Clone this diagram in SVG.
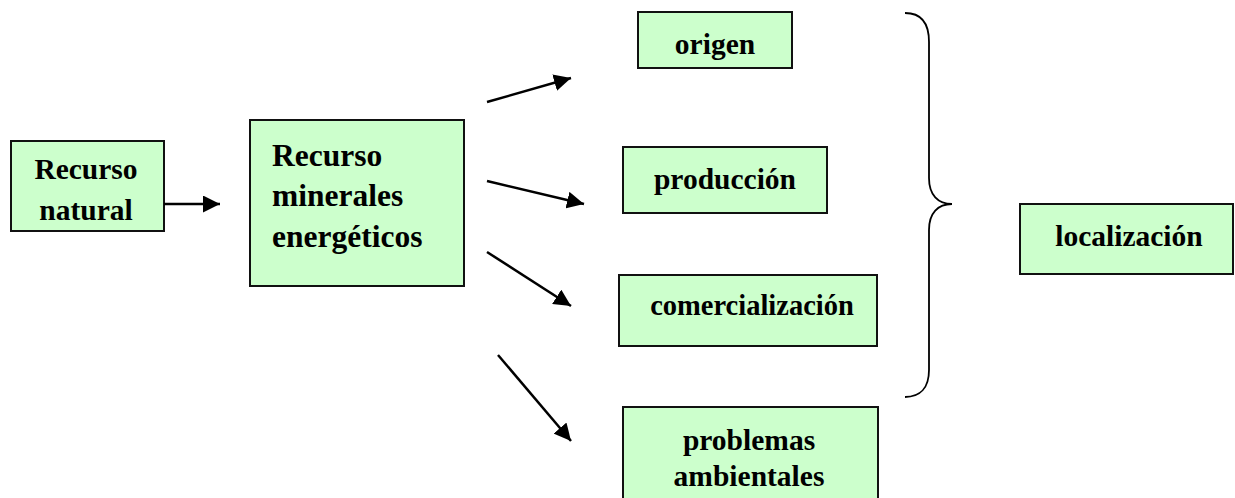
<svg xmlns="http://www.w3.org/2000/svg" width="1235" height="498" viewBox="0 0 1235 498">
<style>
.box{fill:#CCFFCC;stroke:#111;stroke-width:2}
.t{font-family:"Liberation Serif","Times New Roman",serif;font-weight:bold;font-size:29.5px;fill:#000}
.big{font-size:31.5px}
.c{text-anchor:middle}
.ln{stroke:#000;stroke-width:2.5;fill:none}
</style>
<defs>
<marker id="a" viewBox="0 0 17 17" refX="17" refY="8.5" markerWidth="17" markerHeight="17" markerUnits="userSpaceOnUse" orient="auto">
<path d="M0,0 L17,8.5 L0,17 z" fill="#000"/>
</marker>
</defs>
<rect width="1235" height="498" fill="#fff"/>
<g id="n-recurso-natural">
<rect class="box" x="11" y="141" width="153" height="90"/>
<text class="t c" x="86" y="179">Recurso</text>
<text class="t c" x="86" y="220">natural</text>
</g>
<g id="n-recurso-minerales">
<rect class="box" x="250" y="120" width="214" height="166"/>
<text class="t big" x="272" y="166">Recurso</text>
<text class="t big" x="272" y="206">minerales</text>
<text class="t big" x="272" y="247">energéticos</text>
</g>
<g id="n-origen">
<rect class="box" x="638" y="12" width="154" height="56"/>
<text class="t c" x="715" y="54">origen</text>
</g>
<g id="n-produccion">
<rect class="box" x="623" y="147" width="204" height="66"/>
<text class="t c" x="725" y="189">producción</text>
</g>
<g id="n-comercializacion">
<rect class="box" x="619" y="275" width="258" height="71"/>
<text class="t c" x="752" y="315" style="font-size:28.5px">comercialización</text>
</g>
<g id="n-problemas">
<rect class="box" x="623" y="407" width="255" height="100"/>
<text class="t c" x="749" y="450">problemas</text>
<text class="t c" x="749" y="486">ambientales</text>
</g>
<g id="n-localizacion">
<rect class="box" x="1020" y="204" width="213" height="70"/>
<text class="t c" x="1129" y="246">localización</text>
</g>
<g id="connectors">
<line class="ln" x1="164" y1="204" x2="220" y2="204" marker-end="url(#a)"/>
<line class="ln" x1="487" y1="102" x2="571" y2="78" marker-end="url(#a)"/>
<line class="ln" x1="487" y1="181" x2="584" y2="204" marker-end="url(#a)"/>
<line class="ln" x1="487" y1="252" x2="571" y2="306" marker-end="url(#a)"/>
<line class="ln" x1="498" y1="355" x2="571" y2="441" marker-end="url(#a)"/>
<path d="M905,13 C920,13 929,22 929,42 L929,178 C929,195 938,204 952,204 C938,204 929,213 929,230 L929,370 C929,388 920,397 905,397" fill="none" stroke="#000" stroke-width="1.8"/>
</g>
</svg>
